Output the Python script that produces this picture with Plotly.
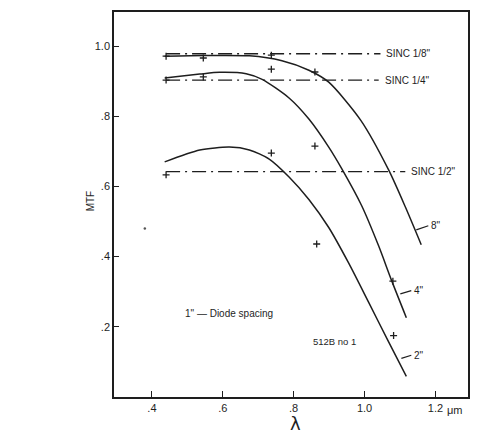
import plotly.graph_objects as go

# Curves (wavelength in um, MTF)
c8_x = [0.436, 0.55, 0.675, 0.767, 0.843, 0.899, 0.989, 1.068, 1.115, 1.160]
c8_y = [0.971, 0.973, 0.972, 0.958, 0.931, 0.897, 0.789, 0.647, 0.542, 0.434]
c4_x = [0.436, 0.535, 0.591, 0.666, 0.711, 0.787, 0.843, 0.899, 0.936, 0.992, 1.040, 1.076, 1.118]
c4_y = [0.909, 0.920, 0.925, 0.921, 0.905, 0.852, 0.792, 0.712, 0.650, 0.545, 0.430, 0.333, 0.226]
c2_x = [0.436, 0.535, 0.619, 0.675, 0.731, 0.787, 0.843, 0.899, 0.955, 1.011, 1.068, 1.118]
c2_y = [0.670, 0.704, 0.712, 0.704, 0.678, 0.627, 0.563, 0.483, 0.382, 0.271, 0.157, 0.059]

# Sinc reference lines
sinc_names = ['SINC 1/8"', 'SINC 1/4"', 'SINC 1/2"']
sinc_vals = [0.978, 0.903, 0.642]
sinc_start = [0.44, 0.44, 0.44]
sinc_end = [1.045, 1.040, 1.115]

# Measured points
pts_x = [0.44, 0.44, 0.44, 0.545, 0.545, 0.737, 0.737, 0.737, 0.86, 0.86, 0.865, 1.08, 1.082]
pts_y = [0.971, 0.903, 0.633, 0.966, 0.912, 0.974, 0.934, 0.695, 0.926, 0.715, 0.436, 0.330, 0.175]

x_ticks = [0.4, 0.6, 0.8, 1.0, 1.2]
x_ticktext = [".4", ".6", ".8", "1.0", "1.2"]
y_ticks = [0.2, 0.4, 0.6, 0.8, 1.0]
y_ticktext = [".2", ".4", ".6", ".8", "1.0"]

ink = "#1e1e1e"
fnt = "Liberation Sans"

fig = go.Figure()
for cx, cy in [(c8_x, c8_y), (c4_x, c4_y), (c2_x, c2_y)]:
    fig.add_trace(go.Scatter(x=cx, y=cy, mode="lines",
                             line=dict(color=ink, width=1.5, shape="spline", smoothing=0.7),
                             hoverinfo="skip"))
for v, s, e in zip(sinc_vals, sinc_start, sinc_end):
    fig.add_trace(go.Scatter(x=[s, e], y=[v, v], mode="lines",
                             line=dict(color=ink, width=1.3, dash="14px,5px,2px,5px"),
                             hoverinfo="skip"))
fig.add_trace(go.Scatter(x=pts_x, y=pts_y, mode="markers",
                         marker=dict(symbol="cross-thin", size=5, line=dict(color=ink, width=1.3)),
                         hoverinfo="skip"))
fig.add_trace(go.Scatter(x=[0.38], y=[0.48], mode="markers",
                         marker=dict(symbol="circle", size=2.5, color="#555"),
                         hoverinfo="skip"))

ann = []
for name, v, e in zip(sinc_names, sinc_vals, sinc_end):
    ann.append(dict(x=e, y=v, xref="x", yref="y", text=name, showarrow=False,
                    xanchor="left", xshift=4, font=dict(family=fnt, size=10, color=ink)))

# curve labels with leader lines
curve_labels = ['8"', '4"', '2"']
lead_x0 = [1.146, 1.101, 1.104]
lead_y0 = [0.476, 0.294, 0.110]
lead_x1 = [1.180, 1.132, 1.132]
lead_y1 = [0.488, 0.303, 0.119]
for t, x0, y0, x1, y1 in zip(curve_labels, lead_x0, lead_y0, lead_x1, lead_y1):
    fig.add_shape(type="line", x0=x0, y0=y0, x1=x1, y1=y1, xref="x", yref="y",
                  line=dict(color=ink, width=1.2))
    ann.append(dict(x=x1, y=y1, xref="x", yref="y", text=t, showarrow=False,
                    xanchor="left", xshift=1, font=dict(family=fnt, size=10, color=ink)))

ann.append(dict(x=0.487, y=0.237, xref="x", yref="y", text='1" \u2014 Diode spacing',
                showarrow=False, xanchor="left", font=dict(family=fnt, size=10, color=ink)))
ann.append(dict(x=0.849, y=0.158, xref="x", yref="y", text='512B no 1',
                showarrow=False, xanchor="left", font=dict(family=fnt, size=9.5, color=ink)))
ann.append(dict(x=-0.067, y=0.509, xref="paper", yref="paper", text="MTF",
                xanchor="center", yanchor="middle",
                textangle=-90, showarrow=False, font=dict(family=fnt, size=10, color=ink)))
ann.append(dict(x=0.514, y=-0.068, xref="paper", yref="paper", text="\u03bb",
                xanchor="center", yanchor="middle",
                showarrow=False, font=dict(family="DejaVu Sans", size=18, color=ink)))
ann.append(dict(x=1.255, y=-0.034, xref="x", yref="paper", text="\u03bcm",
                xanchor="center", yanchor="middle",
                showarrow=False, font=dict(family=fnt, size=11, color=ink)))

fig.update_layout(
    width=477, height=436,
    margin=dict(l=114, r=7, t=12, b=39),
    paper_bgcolor="white", plot_bgcolor="white",
    showlegend=False,
    annotations=ann,
    xaxis=dict(range=[0.293, 1.292], tickvals=x_ticks, ticktext=x_ticktext,
               ticks="inside", ticklen=6, tickwidth=1.2, tickcolor=ink,
               showline=True, linewidth=1.5, linecolor=ink, mirror=True,
               showgrid=False, zeroline=False,
               tickfont=dict(family=fnt, size=11, color=ink)),
    yaxis=dict(range=[0, 1.097], tickvals=y_ticks, ticktext=y_ticktext,
               ticks="inside", ticklen=5, tickwidth=1.2, tickcolor=ink,
               showline=True, linewidth=1.5, linecolor=ink, mirror=True,
               showgrid=False, zeroline=False,
               tickfont=dict(family=fnt, size=11, color=ink)),
)

fig.write_html("out.html")
